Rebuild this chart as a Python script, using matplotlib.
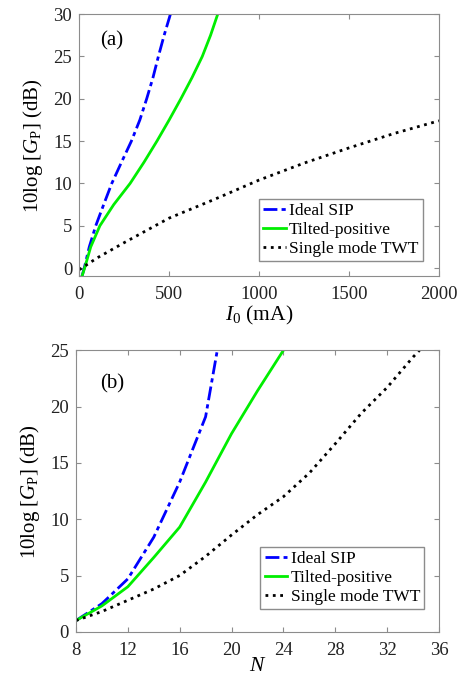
import matplotlib
matplotlib.use('agg')
import matplotlib.pyplot as plt

plt.rcParams['font.family'] = ['Liberation Serif', 'DejaVu Serif']
plt.rcParams['mathtext.fontset'] = 'custom'
plt.rcParams['mathtext.rm'] = 'Liberation Serif'
plt.rcParams['mathtext.it'] = 'Liberation Serif:italic'

# (a) gain vs beam current
sip_I = [15, 28, 56, 92, 136, 181, 235, 290, 337, 375, 410, 440, 472, 507]
sip_gain_a = [-1, 0, 2.5, 5, 7.5, 10, 12.5, 15, 17.5, 20, 22.5, 25, 27.5, 30]
tilt_I = [15, 30, 64, 115, 192, 283, 360, 432, 500, 565, 627, 684, 730, 770]
tilt_gain_a = [-1, 0, 2.5, 5, 7.5, 10, 12.5, 15, 17.5, 20, 22.5, 25, 27.5, 30]
twt_I = [0, 100, 250, 500, 750, 1000, 1250, 1500, 1750, 2000]
twt_gain_a = [-0.2, 1.2, 3.0, 5.9, 8.1, 10.4, 12.4, 14.2, 15.9, 17.4]

# (b) gain vs number of unit cells
sip_N = [8, 10, 12, 14, 16, 18, 18.9]
sip_gain_b = [1, 2.5, 4.7, 8.4, 13.3, 19.1, 25]
tilt_N = [8, 10, 12, 14, 16, 18, 20, 22, 24]
tilt_gain_b = [1, 2.3, 4.0, 6.6, 9.3, 13.3, 17.6, 21.4, 25]
twt_N = [8, 10, 12, 14, 16, 18, 20, 22, 24, 26, 28, 30, 32, 34, 34.5]
twt_gain_b = [1, 1.8, 2.8, 3.8, 5.0, 6.7, 8.6, 10.4, 12.0, 14.1, 16.7, 19.4, 21.7, 24.4, 25]

labels = ['Ideal SIP', 'Tilted-positive', 'Single mode TWT']
ylab = r'10log [$G_\mathrm{P}$] (dB)'

fig = plt.figure(figsize=(4.66, 6.75), dpi=100)
ax1 = fig.add_axes([0.170, 0.591, 0.772, 0.388])
ax2 = fig.add_axes([0.163, 0.064, 0.779, 0.417])


def style(ax):
    for s in ax.spines.values():
        s.set_color('#8c8c8c')
        s.set_linewidth(0.8)
    ax.tick_params(direction='in', top=True, right=True, color='#8c8c8c',
                   labelsize=13.5, length=3.5, labelcolor='#222222')
    ax.tick_params(axis='x', pad=7)
    ax.tick_params(axis='y', pad=5)


def add_legend(ax, anchor):
    ax.legend(labels, loc='lower right', bbox_to_anchor=anchor, fontsize=12.5,
              fancybox=False, edgecolor='#8c8c8c', framealpha=1, handlelength=1.3,
              handletextpad=0.2, borderpad=0.25, labelspacing=0.15, borderaxespad=0)


ax1.plot(sip_I, sip_gain_a, color='#0000ff', ls='-.', lw=2, dashes=(5, 1.5, 1.5, 1.5))
ax1.plot(tilt_I, tilt_gain_a, color='#00ee00', lw=2)
ax1.plot(twt_I, twt_gain_a, color='black', ls=':', lw=2)
ax1.set_xlim(0, 2000)
ax1.set_ylim(-0.95, 30)
ax1.set_xticks([0, 500, 1000, 1500, 2000])
ax1.set_yticks([0, 5, 10, 15, 20, 25, 30])
ax1.set_xlabel(r'$I_0$ (mA)', fontsize=15.5, labelpad=1)
ax1.set_ylabel(ylab, fontsize=15, labelpad=6)
ax1.text(0.09, 0.90, '(a)', transform=ax1.transAxes, fontsize=15, ha='center', va='center')
style(ax1)
add_legend(ax1, (0.955, 0.057))

ax2.plot(sip_N, sip_gain_b, color='#0000ff', ls='-.', lw=2, dashes=(5, 1.5, 1.5, 1.5))
ax2.plot(tilt_N, tilt_gain_b, color='#00ee00', lw=2)
ax2.plot(twt_N, twt_gain_b, color='black', ls=':', lw=2)
ax2.set_xlim(8, 36)
ax2.set_ylim(0, 25)
ax2.set_xticks(range(8, 37, 4))
ax2.set_yticks([0, 5, 10, 15, 20, 25])
ax2.set_xlabel(r'$N$', fontsize=15.5, labelpad=-1)
ax2.set_ylabel(ylab, fontsize=15, labelpad=6)
ax2.text(0.10, 0.88, '(b)', transform=ax2.transAxes, fontsize=15, ha='center', va='center')
style(ax2)
add_legend(ax2, (0.96, 0.08))

plt.savefig('out.png', dpi=100)
plt.close()
